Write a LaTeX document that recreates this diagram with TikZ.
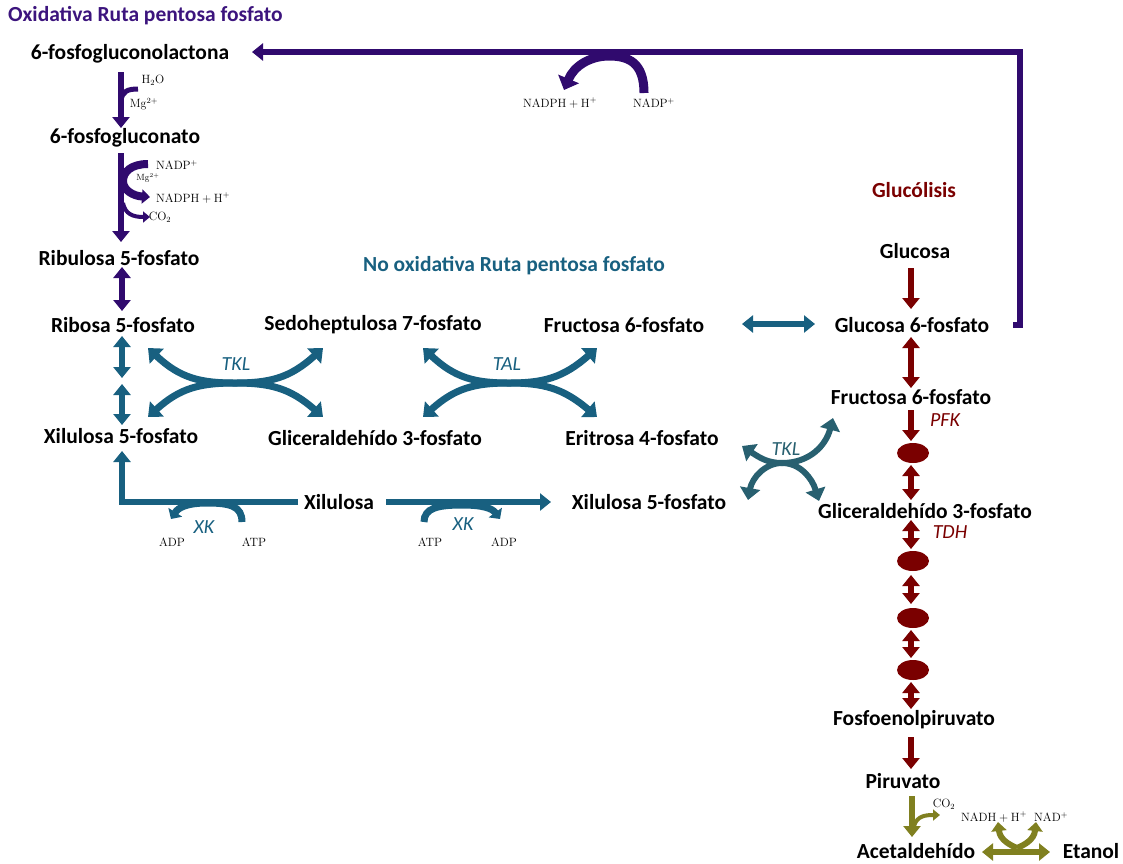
\documentclass[tikz,border=0pt]{standalone}
\usepackage[no-math]{fontspec}
\setmainfont{Carlito}
\usetikzlibrary{arrows.meta,shapes.geometric,calc}
\definecolor{purp}{RGB}{48,10,110}
\definecolor{purpt}{RGB}{60,20,125}
\definecolor{teal1}{RGB}{24,96,128}
\definecolor{teal2}{RGB}{40,96,112}
\definecolor{dred}{RGB}{122,0,0}
\definecolor{olive1}{RGB}{128,128,32}
\tikzset{
  lbl/.style={font=\bfseries\fontsize{21.5}{24}\selectfont, inner sep=0},
  ttl/.style={font=\bfseries\fontsize{21.5}{24}\selectfont, inner sep=0},
  sm/.style={font=\fontsize{12}{14}\selectfont, inner sep=0},
  enz/.style={font=\itshape\fontsize{20}{24}\selectfont, inner sep=0},
  tip/.style={-{Triangle[width=17pt,length=11pt]}},
  dtip/.style={{Triangle[width=17pt,length=11pt]}-{Triangle[width=17pt,length=11pt]}},
  dctip/.style={{Triangle[width=20pt,length=12pt]}-{Triangle[width=20pt,length=12pt]}},
  shaft/.style={line width=6pt},
  oval/.style={ellipse, fill=dred, minimum width=32pt, minimum height=20pt, inner sep=0},
}
\begin{document}
\begin{tikzpicture}[x=1pt,y=-1pt]
\useasboundingbox (0,0) rectangle (1123,863);
% titles
\node[ttl, text=purpt, anchor=west] (t1) at (8,16) {Oxidativa Ruta pentosa fosfato};
\node[ttl, text=teal1] (t2) at (514,266) {No oxidativa Ruta pentosa fosfato};
\node[ttl, text=dred] (t3) at (914,190) {Glucólisis};
% oxidative branch
\node[lbl] (fgl) at (130,54) {6-fosfogluconolactona};
\node[lbl] (fgn) at (125,138) {6-fosfogluconato};
\node[lbl] (ribu) at (119,258) {Ribulosa 5-fosfato};
\node[lbl] (ribo) at (123,325) {Ribosa 5-fosfato};
\node[lbl] (xil5a) at (121,436) {Xilulosa 5-fosfato};
\node[lbl] (sedo) at (373,325) {Sedoheptulosa 7-fosfato};
\node[lbl] (gla) at (375,438) {Gliceraldehído 3-fosfato};
\node[lbl] (fr6a) at (624,325) {Fructosa 6-fosfato};
\node[lbl] (eri) at (642,438) {Eritrosa 4-fosfato};
\node[lbl] (xil) at (339,502) {Xilulosa};
\node[lbl] (xil5b) at (649,502) {Xilulosa 5-fosfato};
% glycolysis
\node[lbl] (glc) at (915,251) {Glucosa};
\node[lbl] (g6p) at (912,325) {Glucosa 6-fosfato};
\node[lbl] (f6p) at (911,397) {Fructosa 6-fosfato};
\node[lbl] (g3p) at (925,511) {Gliceraldehído 3-fosfato};
\node[lbl] (pep) at (914,720) {Fosfoenolpiruvato};
\node[lbl] (pyr) at (903,781) {Piruvato};
\node[lbl] (ace) at (916,851) {Acetaldehído};
\node[lbl] (eta) at (1091,851) {Etanol};
\node[oval] (o1) at (913,453) {};
\node[oval] (o2) at (913,561) {};
\node[oval] (o3) at (913,618) {};
\node[oval] (o4) at (913,670) {};
% small labels
\node[sm] (h2o) at (153,80) {$\mathrm{H_2O}$};
\node[sm] (mg1) at (144,104) {$\mathrm{Mg^{2+}}$};
\node[sm] (nadp1) at (177,165) {$\mathrm{NADP^+}$};
\node[sm, font=\fontsize{9}{10}\selectfont] (mg2) at (148,178) {$\mathrm{Mg^{2+}}$};
\node[sm] (nadph1) at (193,198) {$\mathrm{NADPH + H^+}$};
\node[sm] (co21) at (160,217) {$\mathrm{CO_2}$};
\node[sm] (nadph2) at (560,103) {$\mathrm{NADPH + H^+}$};
\node[sm] (nadp2) at (654,103) {$\mathrm{NADP^+}$};
\node[sm] (adp1) at (172,542) {$\mathrm{ADP}$};
\node[sm] (atp1) at (254,542) {$\mathrm{ATP}$};
\node[sm] (atp2) at (430,542) {$\mathrm{ATP}$};
\node[sm] (adp2) at (504,542) {$\mathrm{ADP}$};
\node[sm] (co22) at (944,804) {$\mathrm{CO_2}$};
\node[sm] (nadh) at (994,817) {$\mathrm{NADH + H^+}$};
\node[sm] (nad) at (1051,817) {$\mathrm{NAD^+}$};
% enzyme labels
\node[enz, text=teal1] (tkl1) at (236,364) {TKL};
\node[enz, text=teal1] (tal) at (507,364) {TAL};
\node[enz, text=teal2] (tkl2) at (786,449) {TKL};
\node[enz, text=teal1] (xk1) at (204,527) {XK};
\node[enz, text=teal1] (xk2) at (463,524) {XK};
\node[enz, text=dred] (pfk) at (945,420) {PFK};
\node[enz, text=dred] (tdh) at (950,532) {TDH};

% ---- purple arrows ----
\coordinate (lp0) at (1013,325);
\coordinate (lp1) at (1020,325);
\coordinate (lp2) at (1020,52);
\coordinate (lp3) at (252,52);
\draw[purp, shaft, tip] (lp0) -- (lp1) -- (lp2) -- (lp3);
\coordinate (na1) at (644,93);
\coordinate (na2) at (564,90);
\draw[purp, line width=9pt, -{Triangle[width=22pt,length=12pt]}] (na1) .. controls (644,62) and (628,56) .. (609,56) .. controls (590,56) and (574,66) .. (na2);
\coordinate (a1s) at (121,72);
\coordinate (a1e) at (121,128);
\draw[purp, shaft, tip] (a1s) -- (a1e);
\draw[purp, line width=5pt] (121,101) .. controls (122,91) and (128,89) .. (138,89);
\coordinate (a2s) at (121,153);
\coordinate (a2e) at (121,242);
\draw[purp, shaft, tip] (a2s) -- (a2e);
\draw[purp, line width=8pt, -{Triangle[width=14pt,length=8pt]}] (148,164) .. controls (131,164) and (123,172) .. (123,181) .. controls (123,190) and (133,196) .. (150,197);
\draw[purp, line width=4pt, -{Triangle[width=11pt,length=7pt]}] (123,203) .. controls (125,214) and (133,217) .. (150,217);
\coordinate (a3s) at (122,267);
\coordinate (a3e) at (122,311);
\draw[purp, shaft, dtip] (a3s) -- (a3e);

% ---- teal arrows ----
\coordinate (a4s) at (122,336);
\coordinate (a4e) at (122,378);
\coordinate (a5s) at (122,384);
\coordinate (a5e) at (122,425);
\draw[teal1, shaft, dtip] (a4s) -- (a4e);
\draw[teal1, shaft, dtip] (a5s) -- (a5e);
% TKL cross
\draw[teal1, line width=7pt, dctip] (148,348) .. controls (180,378) and (200,383) .. (235,383) .. controls (270,383) and (290,378) .. (323,348);
\draw[teal1, line width=7pt, dctip] (148,417) .. controls (180,388) and (200,383) .. (235,383) .. controls (270,383) and (290,388) .. (323,417);
% TAL cross
\draw[teal1, line width=7pt, dctip] (423,348) .. controls (455,378) and (475,383) .. (509,383) .. controls (543,383) and (563,378) .. (597,348);
\draw[teal1, line width=7pt, dctip] (423,417) .. controls (455,388) and (475,383) .. (509,383) .. controls (543,383) and (563,388) .. (597,417);
% F6P <-> G6P
\coordinate (a6s) at (742,324);
\coordinate (a6e) at (815,324);
\draw[teal1, shaft, dtip] (a6s) -- (a6e);
% TKL small cross
\draw[teal2, line width=6pt, dctip] (742,446) .. controls (760,458) and (768,463) .. (782,463) .. controls (810,463) and (826,445) .. (833,418);
\draw[teal2, line width=6pt, dctip] (748,500) .. controls (752,478) and (765,463) .. (782,463) .. controls (800,463) and (812,478) .. (819,501);
% Xilulosa -> Xilulosa 5-fosfato (left)
\coordinate (a7s) at (298,502);
\coordinate (a7c) at (122,502);
\coordinate (a7e) at (122,451);
\draw[teal1, shaft, tip] (a7s) -- (a7c) -- (a7e);
\draw[teal1, line width=7pt, -{Triangle[width=16pt,length=8pt]}] (242,522) .. controls (242,506) and (230,503) .. (207,503) .. controls (186,503) and (178,508) .. (171,519);
% Xilulosa -> Xilulosa 5-fosfato (mid)
\coordinate (a8s) at (386,502);
\coordinate (a8e) at (551,502);
\draw[teal1, shaft, tip] (a8s) -- (a8e);
\draw[teal1, line width=7pt, -{Triangle[width=16pt,length=8pt]}] (424,522) .. controls (424,508) and (438,505) .. (462,505) .. controls (482,505) and (492,508) .. (500,519);

% ---- dark red arrows ----
\draw[dred, shaft, tip] (911,268) -- (911,309);
\draw[dred, shaft, dtip] (911,337) -- (911,388);
\draw[dred, shaft, tip] (911,410) -- (911,441);
\draw[dred, shaft, dtip] (911,465) -- (911,500);
\draw[dred, shaft, dtip] (911,520) -- (911,549);
\draw[dred, shaft, dtip] (911,575) -- (911,604);
\draw[dred, shaft, dtip] (911,630) -- (911,658);
\draw[dred, shaft, dtip] (911,682) -- (911,709);
\draw[dred, shaft, tip] (911,737) -- (911,769);

% ---- olive arrows ----
\draw[olive1, shaft, tip] (912,796) -- (912,837);
\draw[olive1, line width=4pt, -{Triangle[width=11pt,length=7pt]}] (914,826) .. controls (917,816) and (925,815) .. (940,815);
\draw[olive1, shaft, dtip] (982,852) -- (1050,852);
\draw[olive1, line width=6pt, -{Triangle[width=15pt,length=9pt]}] (1017,848) .. controls (1010,845) and (1000,840) .. (998,822);
\draw[olive1, line width=6pt, -{Triangle[width=15pt,length=9pt]}] (1017,848) .. controls (1024,845) and (1034,840) .. (1036,822);
\end{tikzpicture}
\end{document}
